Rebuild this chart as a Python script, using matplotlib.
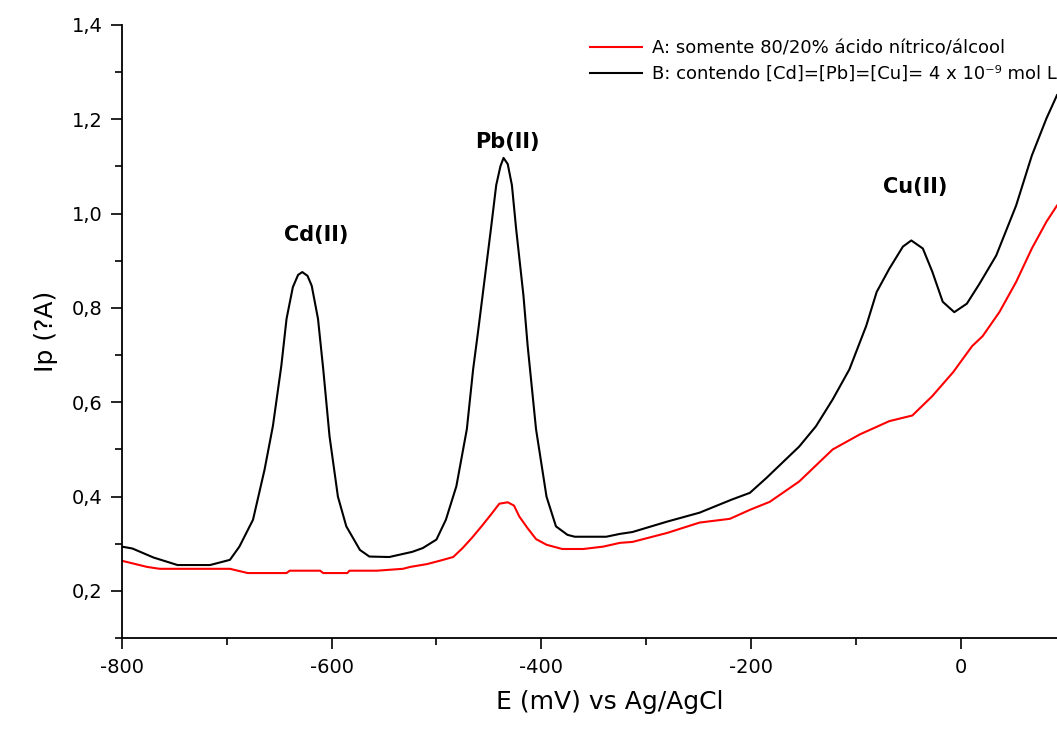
import matplotlib.pyplot as plt
from matplotlib.ticker import MultipleLocator, FuncFormatter

plt.rcParams['font.family'] = ['DejaVu Sans']

# curva A: somente 80/20% ácido nítrico/álcool
E_a = [-800, -776, -764, -697, -680, -643, -640, -611, -608, -585, -583, -557,
       -532, -525, -509, -497, -484, -475, -466, -457, -448, -440, -432, -426,
       -421, -413, -405, -395, -380, -360, -341, -325, -313, -280, -249, -220,
       -201, -182, -154, -122, -96, -68, -46, -27, -7, 11, 21, 37, 53, 68, 82,
       92]
Ip_a = [0.264, 0.251, 0.247, 0.247, 0.238, 0.238, 0.243, 0.243, 0.238, 0.238,
        0.243, 0.243, 0.247, 0.251, 0.257, 0.264, 0.272, 0.291, 0.313, 0.337,
        0.362, 0.385, 0.388, 0.381, 0.358, 0.333, 0.310, 0.298, 0.289, 0.289,
        0.294, 0.302, 0.304, 0.323, 0.345, 0.353, 0.372, 0.389, 0.432, 0.500,
        0.532, 0.560, 0.572, 0.613, 0.664, 0.719, 0.740, 0.791, 0.855, 0.926,
        0.983, 1.017]

# curva B: contendo Cd, Pb e Cu
E_b = [-800, -790, -770, -747, -716, -697, -688, -675, -664, -656, -648, -643,
       -637, -632, -628, -623, -619, -613, -608, -602, -594, -586, -573, -564,
       -545, -523, -513, -500, -491, -481, -471, -465, -460, -456, -448, -443,
       -439, -436, -432, -428, -424, -417, -413, -405, -395, -386, -375, -368,
       -338, -325, -313, -280, -249, -218, -201, -185, -170, -154, -138, -122,
       -106, -90, -80, -68, -55, -47, -36, -27, -17, -6, 6, 18, 34, 53, 68, 82,
       92]
Ip_b = [0.294, 0.290, 0.271, 0.255, 0.255, 0.266, 0.294, 0.351, 0.457, 0.550,
        0.677, 0.777, 0.844, 0.870, 0.876, 0.868, 0.847, 0.777, 0.670, 0.528,
        0.400, 0.337, 0.287, 0.273, 0.272, 0.283, 0.291, 0.309, 0.351, 0.422,
        0.543, 0.670, 0.755, 0.826, 0.968, 1.060, 1.100, 1.118, 1.105, 1.060,
        0.968, 0.826, 0.720, 0.543, 0.400, 0.337, 0.319, 0.315, 0.315, 0.321,
        0.325, 0.347, 0.366, 0.394, 0.408, 0.440, 0.472, 0.506, 0.549, 0.606,
        0.670, 0.762, 0.834, 0.883, 0.930, 0.943, 0.926, 0.877, 0.813, 0.791,
        0.809, 0.851, 0.911, 1.017, 1.123, 1.202, 1.251]

label_a = 'A: somente 80/20% ácido nítrico/álcool'
label_b = 'B: contendo [Cd]=[Pb]=[Cu]= 4 x 10⁻⁹ mol L'

picos = ['Cd(II)', 'Pb(II)', 'Cu(II)']
pico_txt_E = [-615, -432, -43]
pico_txt_y = [0.955, 1.151, 1.057]

fig = plt.figure(figsize=(10.57, 7.31), dpi=100)
ax = fig.add_axes([0.1154, 0.127, 0.8846, 0.839])

ax.plot(E_a, Ip_a, color='red', lw=1.5, label=label_a)
ax.plot(E_b, Ip_b, color='black', lw=1.5, label=label_b)

for nome, e, y in zip(picos, pico_txt_E, pico_txt_y):
    ax.text(e, y, nome, ha='center', va='center', fontsize=15,
            fontweight='bold')

ax.set_xlim(-800, 92)
ax.set_ylim(0.1, 1.4)
ax.xaxis.set_major_locator(MultipleLocator(200))
ax.xaxis.set_minor_locator(MultipleLocator(100))
ax.yaxis.set_major_locator(MultipleLocator(0.2))
ax.yaxis.set_minor_locator(MultipleLocator(0.1))
ax.yaxis.set_major_formatter(FuncFormatter(lambda v, p: f'{v:.1f}'.replace('.', ',')))
ax.xaxis.set_major_formatter(FuncFormatter(lambda v, p: f'{v:.0f}'))

ax.spines['top'].set_visible(False)
ax.spines['right'].set_visible(False)
ax.spines['left'].set_linewidth(1.3)
ax.spines['bottom'].set_linewidth(1.3)
ax.tick_params(which='major', direction='out', length=8, width=1.2,
               labelsize=14, pad=6)
ax.tick_params(which='minor', direction='out', length=5, width=1.2)

ax.set_xlabel('E (mV) vs Ag/AgCl', fontsize=18, labelpad=10, x=0.522)
ax.set_ylabel('Ip (?A)', fontsize=18, labelpad=10)

leg = fig.legend(loc='upper left', bbox_to_anchor=(0.558, 0.946),
                 frameon=False, fontsize=13, handlelength=2.9,
                 handletextpad=0.55, labelspacing=0.42, borderpad=0,
                 borderaxespad=0)
for ln in leg.get_lines():
    ln.set_linewidth(1.5)

fig.savefig('out.png', dpi=100)
